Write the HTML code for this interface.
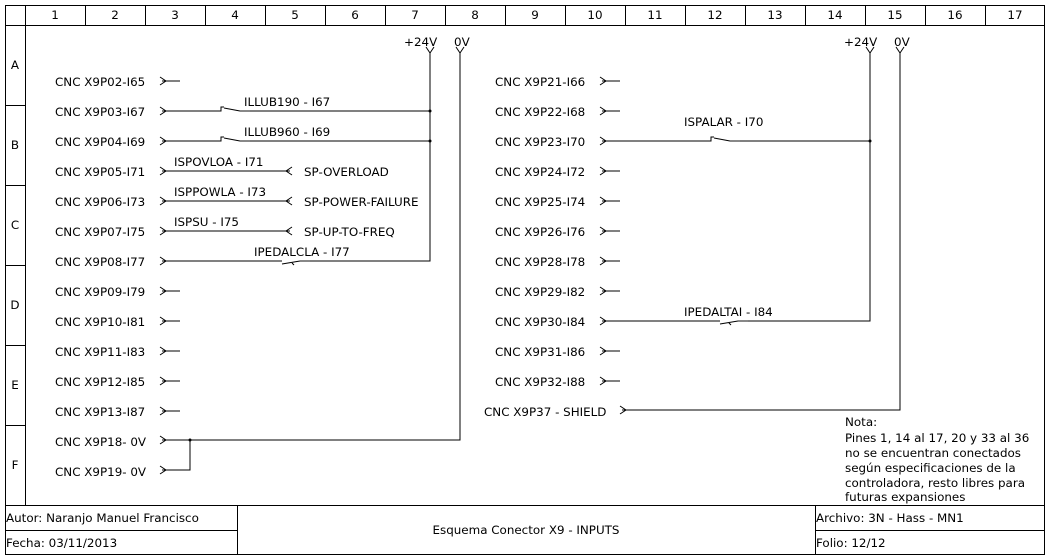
<!DOCTYPE html>
<html><head><meta charset="utf-8"><style>
body{margin:0;background:#fff}
svg{display:block}
text{font-family:"DejaVu Sans",sans-serif;font-size:11.9px;fill:#000}
</style></head><body>
<svg width="1050" height="560" viewBox="0 0 1050 560" xmlns="http://www.w3.org/2000/svg">
<g stroke="#000" stroke-width="1" fill="none" shape-rendering="crispEdges">
<rect x="5.5" y="5.5" width="1039" height="549"/>
<line x1="5" y1="25.5" x2="1045" y2="25.5"/>
<line x1="25.5" y1="5" x2="25.5" y2="505"/>
<line x1="85.5" y1="5" x2="85.5" y2="25"/><line x1="145.5" y1="5" x2="145.5" y2="25"/><line x1="205.5" y1="5" x2="205.5" y2="25"/><line x1="265.5" y1="5" x2="265.5" y2="25"/><line x1="325.5" y1="5" x2="325.5" y2="25"/><line x1="385.5" y1="5" x2="385.5" y2="25"/><line x1="445.5" y1="5" x2="445.5" y2="25"/><line x1="505.5" y1="5" x2="505.5" y2="25"/><line x1="565.5" y1="5" x2="565.5" y2="25"/><line x1="625.5" y1="5" x2="625.5" y2="25"/><line x1="685.5" y1="5" x2="685.5" y2="25"/><line x1="745.5" y1="5" x2="745.5" y2="25"/><line x1="805.5" y1="5" x2="805.5" y2="25"/><line x1="865.5" y1="5" x2="865.5" y2="25"/><line x1="925.5" y1="5" x2="925.5" y2="25"/><line x1="985.5" y1="5" x2="985.5" y2="25"/>
<line x1="5" y1="105.5" x2="25" y2="105.5"/><line x1="5" y1="185.5" x2="25" y2="185.5"/><line x1="5" y1="265.5" x2="25" y2="265.5"/><line x1="5" y1="345.5" x2="25" y2="345.5"/><line x1="5" y1="425.5" x2="25" y2="425.5"/>
<line x1="5" y1="505.5" x2="1045" y2="505.5"/>
<line x1="5" y1="530.5" x2="237" y2="530.5"/><line x1="815" y1="530.5" x2="1045" y2="530.5"/>
<line x1="237.5" y1="505" x2="237.5" y2="555"/><line x1="815.5" y1="505" x2="815.5" y2="555"/>
</g>
<g text-anchor="middle">
<text x="55" y="19">1</text><text x="115" y="19">2</text><text x="175" y="19">3</text><text x="235" y="19">4</text><text x="295" y="19">5</text><text x="355" y="19">6</text><text x="415" y="19">7</text><text x="475" y="19">8</text><text x="535" y="19">9</text><text x="595" y="19">10</text><text x="655" y="19">11</text><text x="715" y="19">12</text><text x="775" y="19">13</text><text x="835" y="19">14</text><text x="895" y="19">15</text><text x="955" y="19">16</text><text x="1015" y="19">17</text>
<text x="15" y="69">A</text><text x="15" y="149">B</text><text x="15" y="229">C</text><text x="15" y="309">D</text><text x="15" y="389">E</text><text x="15" y="469">F</text>
</g>
<g stroke="#000" stroke-width="1" fill="none">
<path d="M426 47 L430 53 L434 47 M430 53 V261 H310 M282 261 H162"/>
<path d="M456 47 L460 53 L464 47 M460 53 V440 H162"/>
<path d="M866 47 L870 53 L874 47 M870 53 V321 H748 M720 321 H602"/>
<path d="M896 47 L900 53 L904 47 M900 53 V410 H622"/>
<path d="M190 440 V470 H162"/>
<path d="M160 77 L166 81 L160 85 M162 81 H180"/>
<path d="M160 107 L166 111 L160 115 M162 111 H221 V107 H224 M224 108 L240 111 M250 111 H430"/>
<path d="M160 137 L166 141 L160 145 M162 141 H221 V137 H224 M224 138 L240 141 M250 141 H430"/>
<path d="M160 167 L166 171 L160 175 M162 171 H290 M292 167 L286 171 L292 175"/>
<path d="M160 197 L166 201 L160 205 M162 201 H290 M292 197 L286 201 L292 205"/>
<path d="M160 227 L166 231 L160 235 M162 231 H290 M292 227 L286 231 L292 235"/>
<path d="M160 257 L166 261 L160 265 M282 264 L300 261 M292 263 L294 265"/>
<path d="M160 287 L166 291 L160 295 M162 291 H180"/>
<path d="M160 317 L166 321 L160 325 M162 321 H180"/>
<path d="M160 347 L166 351 L160 355 M162 351 H180"/>
<path d="M160 377 L166 381 L160 385 M162 381 H180"/>
<path d="M160 407 L166 411 L160 415 M162 411 H180"/>
<path d="M160 436 L166 440 L160 444"/>
<path d="M160 466 L166 470 L160 474"/>
<path d="M600 77 L606 81 L600 85 M602 81 H620"/>
<path d="M600 107 L606 111 L600 115 M602 111 H620"/>
<path d="M600 137 L606 141 L600 145 M602 141 H711 V137 H714 M714 138 L730 141 M740 141 H870"/>
<path d="M600 167 L606 171 L600 175 M602 171 H620"/>
<path d="M600 197 L606 201 L600 205 M602 201 H620"/>
<path d="M600 227 L606 231 L600 235 M602 231 H620"/>
<path d="M600 257 L606 261 L600 265 M602 261 H620"/>
<path d="M600 287 L606 291 L600 295 M602 291 H620"/>
<path d="M600 317 L606 321 L600 325 M720 324 L738 321 M729 323 L731 325"/>
<path d="M600 347 L606 351 L600 355 M602 351 H620"/>
<path d="M600 377 L606 381 L600 385 M602 381 H620"/>
<path d="M620 406 L626 410 L620 414"/>
</g>
<g stroke="#888" stroke-width="2">
<path d="M240 111 H250 M240 141 H250 M300 261 H310 M730 141 H740 M738 321 H748"/>
</g>
<circle cx="430" cy="111" r="1.5"/><circle cx="430" cy="141" r="1.5"/><circle cx="870" cy="141" r="1.5"/><circle cx="190" cy="440" r="1.5"/>
<text x="404" y="46">+24V</text><text x="454" y="46">0V</text>
<text x="844" y="46">+24V</text><text x="894" y="46">0V</text>
<text x="55" y="86">CNC X9P02-I65</text>
<text x="55" y="116">CNC X9P03-I67</text>
<text x="55" y="146">CNC X9P04-I69</text>
<text x="55" y="176">CNC X9P05-I71</text>
<text x="55" y="206">CNC X9P06-I73</text>
<text x="55" y="236">CNC X9P07-I75</text>
<text x="55" y="266">CNC X9P08-I77</text>
<text x="55" y="296">CNC X9P09-I79</text>
<text x="55" y="326">CNC X9P10-I81</text>
<text x="55" y="356">CNC X9P11-I83</text>
<text x="55" y="386">CNC X9P12-I85</text>
<text x="55" y="416">CNC X9P13-I87</text>
<text x="55" y="446">CNC X9P18- 0V</text>
<text x="55" y="476">CNC X9P19- 0V</text>
<text x="244" y="106">ILLUB190 - I67</text>
<text x="244" y="136">ILLUB960 - I69</text>
<text x="174" y="166">ISPOVLOA - I71</text>
<text x="174" y="196">ISPPOWLA - I73</text>
<text x="174" y="226">ISPSU - I75</text>
<text x="254" y="256">IPEDALCLA - I77</text>
<text x="304" y="176">SP-OVERLOAD</text>
<text x="304" y="206">SP-POWER-FAILURE</text>
<text x="304" y="236">SP-UP-TO-FREQ</text>
<text x="495" y="86">CNC X9P21-I66</text>
<text x="495" y="116">CNC X9P22-I68</text>
<text x="495" y="146">CNC X9P23-I70</text>
<text x="495" y="176">CNC X9P24-I72</text>
<text x="495" y="206">CNC X9P25-I74</text>
<text x="495" y="236">CNC X9P26-I76</text>
<text x="495" y="266">CNC X9P28-I78</text>
<text x="495" y="296">CNC X9P29-I82</text>
<text x="495" y="326">CNC X9P30-I84</text>
<text x="495" y="356">CNC X9P31-I86</text>
<text x="495" y="386">CNC X9P32-I88</text>
<text x="484" y="416">CNC X9P37 - SHIELD</text>
<text x="684" y="126">ISPALAR - I70</text>
<text x="684" y="316">IPEDALTAI - I84</text>
<g style="font-size:12.5px">
<text x="845" y="426">Nota:</text>
<text x="845" y="442">Pines 1, 14 al 17, 20 y 33 al 36</text>
<text x="845" y="457">no se encuentran conectados</text>
<text x="845" y="472">según especificaciones de la</text>
<text x="845" y="487">controladora, resto libres para</text>
<text x="845" y="501">futuras expansiones</text>
</g>
<text x="6" y="522">Autor: Naranjo Manuel Francisco</text>
<text x="6" y="547">Fecha: 03/11/2013</text>
<text x="526" y="534" text-anchor="middle">Esquema Conector X9 - INPUTS</text>
<text x="816" y="522">Archivo: 3N - Hass - MN1</text>
<text x="816" y="547">Folio: 12/12</text>
</svg>
</body></html>
